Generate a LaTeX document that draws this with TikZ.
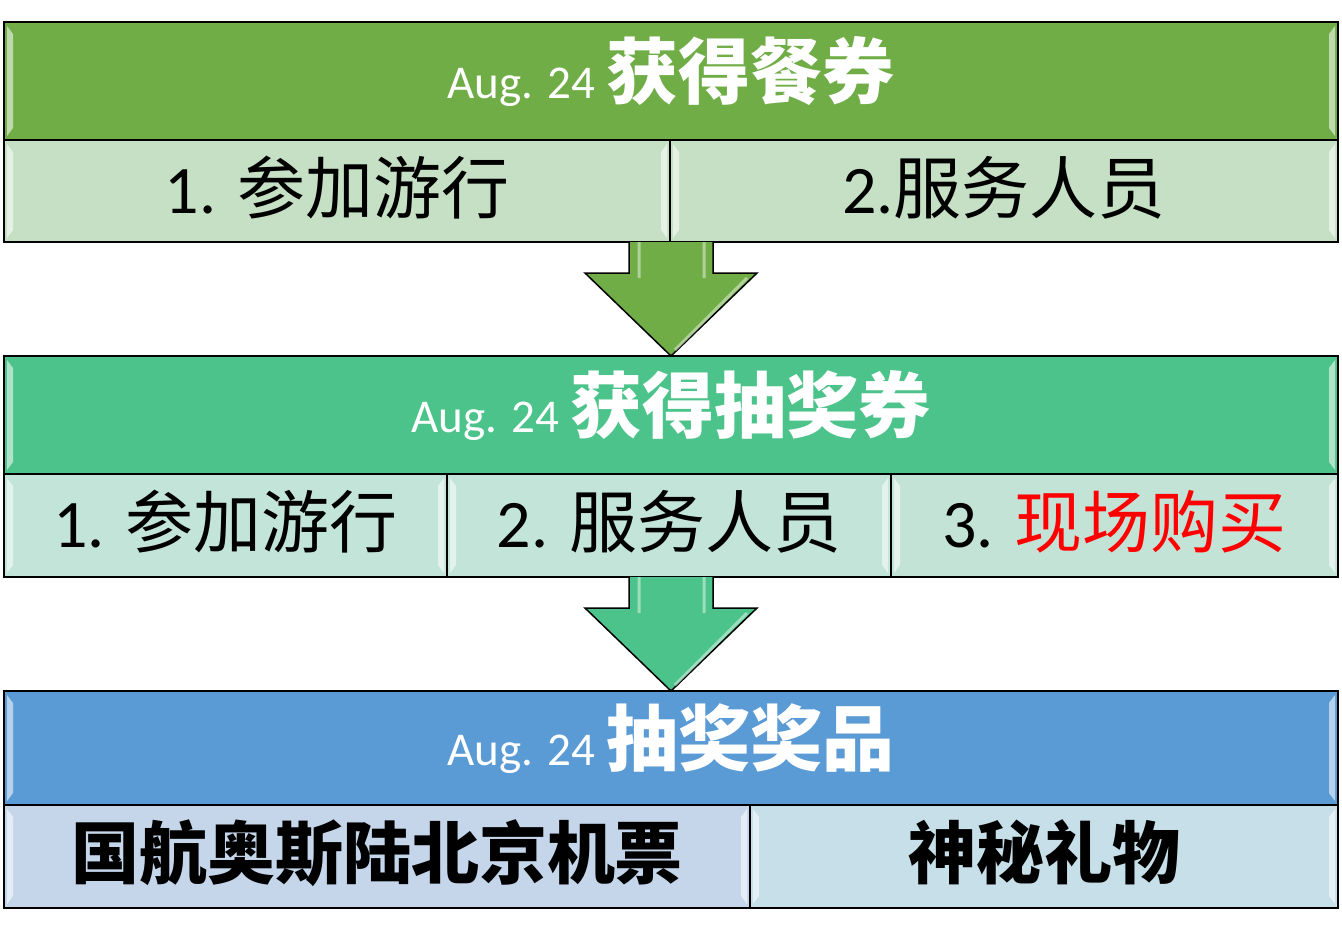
\documentclass[tikz,border=0pt]{standalone}
\usepackage{fontspec}
\setmainfont{Carlito}
\newfontfamily\cjk{Noto Sans CJK SC}
\usetikzlibrary{calc}
\definecolor{hdgreen}{HTML}{70AD47}
\definecolor{hdteal}{HTML}{4CC38A}
\definecolor{hdblue}{HTML}{5B9BD5}
\definecolor{rowgreen}{HTML}{C5E0C4}
\definecolor{rowteal}{HTML}{C3E4D9}
\definecolor{rowblue}{HTML}{C5D6EB}
\definecolor{rowcyan}{HTML}{C6DFE9}
\def\hdtext#1#2{{\fontsize{47}{50}\selectfont #1}\hspace{12pt}{\cjk\bfseries\fontsize{72}{80}\selectfont #2}}
\def\celltext{\fontsize{68}{72}\selectfont}
\def\blockarrow#1#2#3{\draw[line width=1.5pt,fill=#3,line join=miter]
  ($(#1)+(-42,0)$) -- ($(#2)+(-42,83)$) -- ($(#2)+(-86,83)$) -- (#2)
  -- ($(#2)+(86,83)$) -- ($(#2)+(42,83)$) -- ($(#1)+(42,0)$);
  \draw[white,opacity=.45,line width=3pt] ($(#1)+(-32,0)$) -- ($(#2)+(-32,78)$)
    ($(#1)+(33,0)$) -- ($(#2)+(33,78)$) ($(#2)+(76,78)$) -- ($(#2)+(4,6)$);}

\begin{document}
\begin{tikzpicture}[x=1pt,y=1pt,
    bevel/.style={path picture={
      \fill[white,opacity=.55] ($(path picture bounding box.north west)+(3,-4)$) -- ++(6,-8)
        -- ($(path picture bounding box.south west)+(9,12)$) -- ++(-6,-8) -- cycle;
      \fill[white,opacity=.55] ($(path picture bounding box.north east)+(-3,-4)$) -- ++(-6,-8)
        -- ($(path picture bounding box.south east)+(-9,12)$) -- ++(6,-8) -- cycle;}},
    head/.style={draw,line width=1.5pt,inner sep=0pt,outer sep=0pt,bevel,
      minimum width=1334pt,minimum height=118pt,text=white,text height=40pt,text depth=6pt},
    cell/.style={draw,line width=1.5pt,inner sep=0pt,outer sep=0pt,bevel,
      minimum height=102pt,anchor=north west,text height=52pt,text depth=8pt}]
  \useasboundingbox (0,0) rectangle (1342,-948);
  % step 1
  \node[head,fill=hdgreen] (h1) at (671,-81) {\hdtext{Aug. 24}{获得餐券}};
  \node[cell,fill=rowgreen,minimum width=666pt] (r1a) at (h1.south west) {\celltext 1. {\cjk 参加游行}};
  \node[cell,fill=rowgreen,minimum width=668pt] (r1b) at (r1a.north east) {\celltext 2.{\cjk 服务人员}};
  % step 2
  \node[head,fill=hdteal] (h2) at (671,-415) {\hdtext{Aug. 24}{获得抽奖券}};
  \node[cell,fill=rowteal,minimum width=443pt,minimum height=103pt] (r2a) at (h2.south west) {\celltext 1. {\cjk 参加游行}};
  \node[cell,fill=rowteal,minimum width=444pt,minimum height=103pt] (r2b) at (r2a.north east) {\celltext 2. {\cjk 服务人员}};
  \node[cell,fill=rowteal!85!rowgreen,minimum width=447pt,minimum height=103pt] (r2c) at (r2b.north east) {\celltext 3. {\cjk\color{red}现场购买}};
  % step 3
  \node[head,fill=hdblue,minimum height=114pt] (h3) at (671,-748) {\hdtext{Aug. 24}{抽奖奖品}};
  \node[cell,fill=rowblue,minimum width=746pt,minimum height=103pt] (r3a) at (h3.south west) {\celltext\cjk\bfseries 国航奥斯陆北京机票};
  \node[cell,fill=rowcyan,minimum width=588pt,minimum height=103pt] (r3b) at (r3a.north east) {\celltext\cjk\bfseries 神秘礼物};
  % arrows
  \coordinate (a1) at (h2.north |- r1a.south);
  \coordinate (a2) at (h3.north |- r2a.south);
  \blockarrow{a1}{h2.north}{hdgreen}
  \blockarrow{a2}{h3.north}{hdteal}
\end{tikzpicture}
\end{document}
